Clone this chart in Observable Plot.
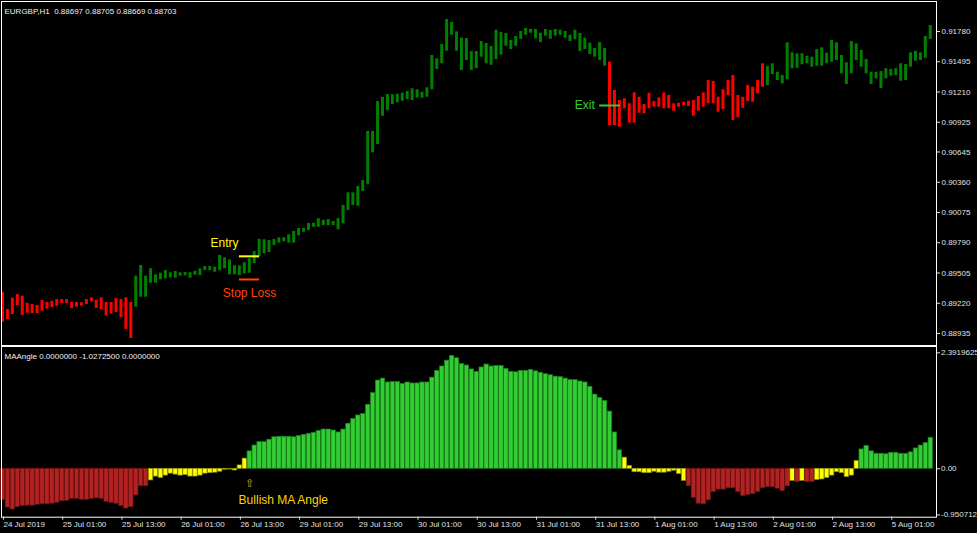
<!DOCTYPE html>
<html><head><meta charset="utf-8">
<script src="https://cdn.jsdelivr.net/npm/d3@7"></script>
<script src="https://cdn.jsdelivr.net/npm/@observablehq/plot@0.6"></script>
<style>
html,body{margin:0;padding:0;background:#000;}
#chart svg{display:block;}
</style></head><body><div id="chart"></div>
<script>
// ---------- DATA ----------
const headerText = "EURGBP,H1  0.88697 0.88705 0.88669 0.88703";
const indicatorText = "MAAngle 0.0000000 -1.0272500 0.0000000";

// hourly bars, 24 Jul 2019 13:00 ... 5 Aug 2019 09:00 (index 0..188)
const barHigh = [
0.89324,0.89161,0.89268,0.89302,0.89286,0.89220,0.89208,0.89199,0.89246,0.89227,
0.89239,0.89255,0.89255,0.89255,0.89227,0.89227,0.89224,0.89255,0.89271,0.89246,
0.89271,0.89227,0.89227,0.89265,0.89255,0.89271,0.89227,0.89475,0.89576,0.89475,
0.89545,0.89488,0.89503,0.89528,0.89507,0.89519,0.89507,0.89510,0.89507,0.89522,
0.89545,0.89566,0.89566,0.89560,0.89670,0.89648,0.89629,0.89573,0.89573,0.89601,
0.89639,0.89707,0.89821,0.89818,0.89811,0.89821,0.89837,0.89837,0.89865,0.89896,
0.89924,0.89924,0.89971,0.89974,0.90016,0.90002,0.90009,0.89990,0.90018,0.90141,
0.90260,0.90260,0.90320,0.90376,0.90838,0.90838,0.91120,0.91158,0.91186,0.91184,
0.91189,0.91199,0.91215,0.91240,0.91231,0.91208,0.91250,0.91554,0.91523,0.91657,
0.91893,0.91865,0.91777,0.91717,0.91714,0.91591,0.91591,0.91686,0.91667,0.91639,
0.91792,0.91770,0.91761,0.91695,0.91733,0.91780,0.91808,0.91801,0.91799,0.91764,
0.91799,0.91789,0.91799,0.91792,0.91780,0.91745,0.91792,0.91761,0.91717,0.91670,
0.91620,0.91676,0.91620,0.91491,0.91224,0.91130,0.91146,0.91099,0.91202,0.91161,
0.91092,0.91199,0.91120,0.91155,0.91202,0.91177,0.91099,0.91104,0.91114,0.91123,
0.91130,0.91168,0.91202,0.91318,0.91309,0.91161,0.91231,0.91318,0.91365,0.91177,
0.91161,0.91271,0.91255,0.91318,0.91476,0.91450,0.91476,0.91396,0.91365,0.91673,
0.91579,0.91570,0.91570,0.91547,0.91538,0.91610,0.91626,0.91575,0.91695,0.91673,
0.91554,0.91485,0.91686,0.91664,0.91601,0.91516,0.91396,0.91396,0.91403,0.91429,
0.91422,0.91429,0.91476,0.91469,0.91579,0.91594,0.91579,0.91733,0.91836];
const barLow = [
0.89041,0.89067,0.89114,0.89199,0.89105,0.89126,0.89123,0.89123,0.89145,0.89164,
0.89180,0.89192,0.89218,0.89218,0.89171,0.89183,0.89192,0.89208,0.89236,0.89171,
0.89161,0.89102,0.89117,0.89133,0.89083,0.88973,0.88888,0.89183,0.89277,0.89277,
0.89409,0.89409,0.89441,0.89450,0.89460,0.89456,0.89475,0.89479,0.89456,0.89484,
0.89481,0.89528,0.89528,0.89512,0.89528,0.89545,0.89488,0.89488,0.89481,0.89497,
0.89503,0.89594,0.89660,0.89686,0.89698,0.89764,0.89786,0.89799,0.89786,0.89786,
0.89855,0.89889,0.89905,0.89936,0.89936,0.89952,0.89952,0.89952,0.89912,0.89968,
0.90094,0.90141,0.90134,0.90273,0.90341,0.90637,0.90715,0.90982,0.91036,0.91092,
0.91108,0.91123,0.91139,0.91130,0.91152,0.91152,0.91161,0.91231,0.91422,0.91476,
0.91594,0.91745,0.91594,0.91413,0.91507,0.91413,0.91429,0.91538,0.91476,0.91462,
0.91516,0.91557,0.91641,0.91610,0.91641,0.91705,0.91745,0.91764,0.91711,0.91676,
0.91736,0.91707,0.91736,0.91745,0.91717,0.91686,0.91702,0.91591,0.91610,0.91563,
0.91538,0.91507,0.91453,0.90894,0.90894,0.90878,0.91052,0.90916,0.90916,0.91010,
0.91005,0.91052,0.91067,0.91067,0.91052,0.91052,0.91029,0.91067,0.91083,0.91073,
0.90982,0.91029,0.91067,0.91099,0.91099,0.91020,0.91045,0.91177,0.90942,0.90967,
0.91057,0.91120,0.91114,0.91193,0.91255,0.91271,0.91375,0.91318,0.91287,0.91325,
0.91429,0.91434,0.91466,0.91476,0.91444,0.91453,0.91453,0.91476,0.91491,0.91507,
0.91381,0.91281,0.91381,0.91507,0.91444,0.91381,0.91281,0.91334,0.91243,0.91334,
0.91359,0.91365,0.91312,0.91318,0.91444,0.91500,0.91507,0.91528,0.91705];
// bar colour runs (trend of the candle-colour indicator)
const barTrendRuns = [["down",27],["up",96],["down",32],["up",34]];

// MA angle histogram
const histValue = [
-0.64,-0.80,-0.84,-0.79,-0.77,-0.76,-0.76,-0.74,-0.73,-0.73,
-0.72,-0.70,-0.67,-0.66,-0.62,-0.62,-0.64,-0.64,-0.62,-0.61,
-0.62,-0.68,-0.70,-0.72,-0.77,-0.82,-0.79,-0.55,-0.36,-0.36,
-0.24,-0.16,-0.19,-0.14,-0.10,-0.12,-0.14,-0.13,-0.16,-0.16,
-0.14,-0.10,-0.09,-0.08,-0.06,-0.02,-0.015,-0.035,0.07,0.21,
0.36,0.48,0.55,0.55,0.60,0.65,0.66,0.66,0.66,0.65,
0.68,0.70,0.72,0.74,0.78,0.81,0.81,0.79,0.75,0.81,
0.93,1.03,1.10,1.13,1.32,1.56,1.82,1.86,1.78,1.79,
1.79,1.75,1.78,1.76,1.76,1.78,1.78,1.88,2.02,2.11,
2.23,2.33,2.28,2.16,2.13,2.05,2.00,2.09,2.15,2.11,
2.12,2.12,2.06,2.00,1.99,2.02,2.02,2.04,2.01,1.98,
1.95,1.93,1.90,1.89,1.86,1.83,1.83,1.80,1.78,1.69,
1.53,1.46,1.40,1.18,0.75,0.38,0.23,0.06,-0.07,-0.07,
-0.09,-0.09,-0.06,-0.08,-0.08,-0.06,-0.04,-0.11,-0.25,-0.36,
-0.60,-0.72,-0.73,-0.65,-0.48,-0.43,-0.43,-0.40,-0.40,-0.48,
-0.56,-0.54,-0.52,-0.48,-0.40,-0.38,-0.38,-0.41,-0.46,-0.36,
-0.25,-0.27,-0.25,-0.27,-0.27,-0.23,-0.22,-0.19,-0.14,-0.07,
-0.09,-0.17,-0.14,0.16,0.40,0.47,0.36,0.31,0.31,0.30,
0.33,0.33,0.31,0.31,0.34,0.42,0.48,0.53,0.64];
// histogram state runs: bear / flat / bull
const histStateRuns = [["bear",30],["flat",20],["bull",76],["flat",13],["bear",21],
  ["flat",1],["bear",1],["flat",1],["bear",2],["flat",9],["bull",15]];

const priceTicks = [0.91780,0.91495,0.91210,0.90925,0.90645,0.90360,0.90075,0.89790,0.89505,0.89220,0.88935];
const histTicks = [2.3919625, 0, -0.9507125];
const histTickLabels = ["2.3919625", "0.00", "-0.9507125"];
const timeTickIndex = [0,12,24,36,48,60,72,84,96,108,120,132,144,156,168,180];
const timeTickLabels = ["24 Jul 2019","25 Jul 01:00","25 Jul 13:00","26 Jul 01:00","26 Jul 13:00",
  "29 Jul 01:00","29 Jul 13:00","30 Jul 01:00","30 Jul 13:00","31 Jul 01:00","31 Jul 13:00",
  "1 Aug 01:00","1 Aug 13:00","2 Aug 01:00","2 Aug 13:00","5 Aug 01:00"];

// trade annotations (bar index, price)
const levelName  = ["entry","stop","exit"];
const levelFrom  = [47.9, 47.9, 120.9];
const levelTo    = [52.0, 52.0, 125.1];
const levelPrice = [0.89662, 0.89444, 0.91083];
const noteText  = ["Entry","Stop Loss","Exit"];
const noteBar   = [44.9, 49.95, 117.9];
const notePrice = [0.89783, 0.89312, 0.91083];
const signalText = ["⇧","Bullish MA Angle"];
const signalBar = [50.0, 56.8];
const signalValue = [-0.30, -0.643];

// ---------- STYLE ----------
const C = {down:"#ff0000", up:"#008000",
  bear:"#b22222", flat:"#ffff00", bull:"#32cd32",
  bearS:"#6e1212", flatS:"#8c8c00", bullS:"#1d7a1d",
  entry:"#ffff00", stop:"#ff4500", exit:"#32cd32", signal:["#e0a020","#ffd200"]};
const SMALL = "'Liberation Sans',Arial,sans-serif";
const TEXT = "'Liberation Sans',Arial,sans-serif";

const expand = runs => runs.flatMap(([k,n]) => Array(n).fill(k));
const trend = expand(barTrendRuns);
const state = expand(histStateRuns);
const bars = barHigh.map((h,i)=>({i, high:h, low:barLow[i], trend:trend[i]}));
const hist = histValue.map((v,i)=>({i, v, state:state[i]}));
const levels = levelName.map((n,k)=>({n, from:levelFrom[k], to:levelTo[k], price:levelPrice[k]}));
const notes = noteText.map((t,k)=>({t, bar:noteBar[k], price:notePrice[k], c:C[levelName[k]]}));
const signals = signalText.map((t,k)=>({t, bar:signalBar[k], v:signalValue[k], c:C.signal[k]}));

const xOpt = {domain:[0,188], range:[2.5, 2.5+188*4.935], axis:null};
const baseStyle = {background:"#000", color:"#e0e0e0", fontFamily:SMALL, fontSize:"8px", overflow:"visible"};

const topPlot = Plot.plot({
  width:977, height:346, marginLeft:1, marginRight:41, marginTop:1, marginBottom:1,
  style: baseStyle,
  x: xOpt,
  y: {domain:[0.88935,0.91780], range:[333,31], axis:null},
  color: {type:"identity"},
  marks: [
    Plot.rect(bars, {x1:d=>d.i-0.3, x2:d=>d.i+0.3, y1:"low", y2:"high", fill:d=>C[d.trend]}),
    Plot.ruleY(levels, {y:"price", x1:"from", x2:"to", stroke:d=>C[d.n], strokeWidth:2}),
    Plot.text(notes, {x:"bar", y:"price", text:"t", fill:"c", fontSize:12, fontFamily:TEXT}),
    Plot.frame({stroke:"#fff"}),
    Plot.axisY(priceTicks, {anchor:"right", tickSize:3, tickPadding:2, tickFormat:d3.format(".5f"), label:null}),
    Plot.text([headerText], {frameAnchor:"top-left", dx:3, dy:6.5, textAnchor:"start", fill:"#f0f0f0"})
  ]
});

const bottomPlot = Plot.plot({
  width:977, height:187, marginLeft:1, marginRight:41, marginTop:0, marginBottom:16.3,
  style: baseStyle,
  x: xOpt,
  y: {domain:[0,2.3919625], range:[122.3,6.3], axis:null},
  color: {type:"identity"},
  marks: [
    Plot.rect(hist, {x1:d=>d.i-0.45, x2:d=>d.i+0.45, y1:0, y2:"v",
      fill:d=>C[d.state], stroke:d=>C[d.state+"S"], strokeWidth:0.7}),
    Plot.text(signals, {x:"bar", y:"v", text:"t", fill:"c", fontSize:d=>d.t.length>1?12:11, fontFamily:TEXT}),
    Plot.frame({stroke:"#fff"}),
    Plot.axisY(histTicks, {anchor:"right", tickSize:3, tickPadding:1.5,
      tickFormat:d=>histTickLabels[histTicks.indexOf(d)], label:null}),
    Plot.axisX(timeTickIndex, {anchor:"bottom", tickSize:3, tickPadding:1.5, textAnchor:"start", dx:0.5,
      tickFormat:d=>timeTickLabels[timeTickIndex.indexOf(d)], label:null}),
    Plot.text([indicatorText], {frameAnchor:"top-left", dx:3, dy:7, textAnchor:"start", fill:"#f0f0f0"})
  ]
});

const root = document.getElementById("chart");
root.append(topPlot, bottomPlot);
</script></body></html>
